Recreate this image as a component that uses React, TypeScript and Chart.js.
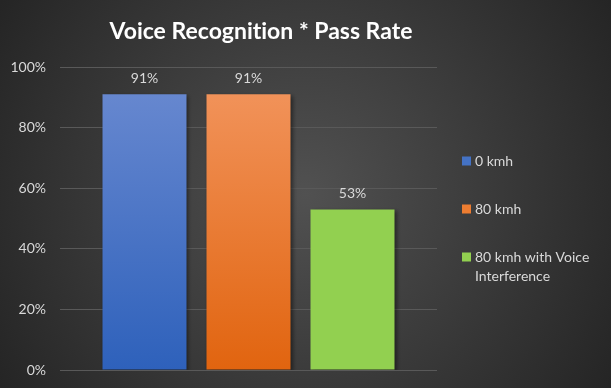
import React, { useEffect, useRef } from "react";
import { Chart, registerables } from "chart.js";

Chart.register(...registerables);

const titleText = "Voice Recognition * Pass Rate";
const categories = [""];
const seriesNames = ["0 kmh", "80 kmh", "80 kmh with Voice Interference"];
const legendLines = [["0 kmh"], ["80 kmh"], ["80 kmh with Voice", "Interference"]];
const seriesValues = [91, 91, 53];
const yTicks = [0, 20, 40, 60, 80, 100];
const topColors = ["#6687cf", "#f19259", "#92d050"];
const bottomColors = ["#2e61bb", "#e1640f", "#92d050"];
const legendColors = ["#4472c4", "#ed7d31", "#92d050"];
const FONT = "Lato, 'Open Sans', sans-serif";

const bgPlugin = {
  id: "bg",
  beforeDraw(chart: any) {
    const { ctx, width, height } = chart;
    ctx.save();
    const g = ctx.createRadialGradient(width / 2, height / 2, 0, width / 2, height / 2, 360);
    g.addColorStop(0, "#515151");
    g.addColorStop(1, "#252525");
    ctx.fillStyle = g;
    ctx.fillRect(0, 0, width, height);
    ctx.restore();
  },
};

const shadowPlugin = {
  id: "barShadow",
  beforeDatasetsDraw(chart: any) {
    const ctx = chart.ctx;
    ctx.save();
    ctx.shadowColor = "rgba(0,0,0,0.45)";
    ctx.shadowBlur = 4;
    ctx.shadowOffsetX = 2;
    ctx.shadowOffsetY = 2;
  },
  afterDatasetsDraw(chart: any) {
    chart.ctx.restore();
  },
};

const overlayPlugin = {
  id: "overlay",
  afterDraw(chart: any) {
    const ctx = chart.ctx;
    ctx.save();
    ctx.fillStyle = "#ffffff";
    ctx.font = `bold 23px ${FONT}`;
    try {
      (ctx as any).textRendering = "optimizeSpeed";
    } catch (e) {}
    ctx.textAlign = "center";
    ctx.textBaseline = "alphabetic";
    ctx.fillText(titleText, 261, 39);
    ctx.font = `14px ${FONT}`;
    ctx.fillStyle = "#d9d9d9";
    ctx.textBaseline = "middle";
    chart.data.datasets.forEach((ds: any, i: number) => {
      const meta = chart.getDatasetMeta(i);
      meta.data.forEach((el: any, j: number) => {
        ctx.fillText(`${ds.data[j]}%`, el.x, el.y - 16);
      });
    });
    ctx.textAlign = "left";
    const ys = [161, 209, 257];
    legendLines.forEach((lines, i) => {
      ctx.fillStyle = legendColors[i];
      ctx.fillRect(462, ys[i] - 4.5, 9, 9);
      ctx.fillStyle = "#d9d9d9";
      lines.forEach((t, k) => ctx.fillText(t, 475, ys[i] + k * 19));
    });
    ctx.restore();
  },
};

export default function App() {
  const ref = useRef<HTMLCanvasElement | null>(null);
  useEffect(() => {
    if (!ref.current) return;
    const chart = new Chart(ref.current, {
      type: "bar",
      data: {
        labels: categories,
        datasets: seriesNames.map((name, i) => ({
          label: name,
          data: [seriesValues[i]],
          backgroundColor: (c: any) => {
            const ch = c.chart;
            const area = ch.chartArea;
            if (!area) return topColors[i];
            const yTop = ch.scales.y.getPixelForValue(seriesValues[i]);
            const g = ch.ctx.createLinearGradient(0, yTop, 0, area.bottom);
            g.addColorStop(0, topColors[i]);
            g.addColorStop(1, bottomColors[i]);
            return g;
          },
          borderWidth: 0,
          categoryPercentage: 0.8276,
          barPercentage: 0.8077,
        })),
      },
      options: {
        animation: false,
        responsive: false,
        maintainAspectRatio: false,
        layout: { padding: { left: 0, top: 67, right: 174, bottom: 18 } },
        plugins: { legend: { display: false }, title: { display: false }, tooltip: { enabled: false } },
        scales: {
          x: { display: false },
          y: {
            min: 0,
            max: 100,
            afterFit: (s: any) => {
              s.width = 60;
              s.paddingTop = 0;
              s.paddingBottom = 0;
            },
            afterBuildTicks: (s: any) => {
              s.ticks = yTicks.map((v) => ({ value: v }));
            },
            ticks: {
              color: "#d9d9d9",
              font: { family: FONT, size: 14 },
              padding: 14,
              callback: (v: any) => `${v}%`,
            },
            grid: { color: "#595959", lineWidth: 1, drawTicks: false },
            border: { display: false },
          },
        },
      },
      plugins: [bgPlugin, shadowPlugin, overlayPlugin],
    });
    return () => chart.destroy();
  }, []);
  return (
    <div style={{ position: "fixed", left: 0, top: 0, width: 611, height: 388 }}>
      <canvas ref={ref} width={611} height={388} style={{ display: "block" }} />
    </div>
  );
}
